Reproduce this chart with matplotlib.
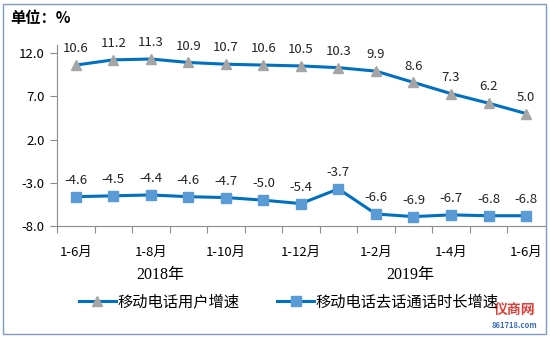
import matplotlib.pyplot as plt
from matplotlib.patches import Rectangle

plt.rcParams['font.family'] = ['Noto Sans CJK SC', 'DejaVu Sans']

months = ['1-6月', '1-7月', '1-8月', '1-9月', '1-10月', '1-11月', '1-12月',
          '1月', '1-2月', '1-3月', '1-4月', '1-5月', '1-6月']
shown_ticks = [0, 2, 4, 6, 8, 10, 12]
user_growth = [10.6, 11.2, 11.3, 10.9, 10.7, 10.6, 10.5, 10.3, 9.9, 8.6, 7.3, 6.2, 5.0]
call_growth = [-4.6, -4.5, -4.4, -4.6, -4.7, -5.0, -5.4, -3.7, -6.6, -6.9, -6.7, -6.8, -6.8]
y_ticks = [12.0, 7.0, 2.0, -3.0, -8.0]

line_blue = '#0070C0'
x = list(range(len(months)))

fig = plt.figure(figsize=(5.5, 3.37), dpi=100)
ax = fig.add_axes([0.1036, 0.329, 0.887, 0.537])

ax.plot(x, user_growth, color=line_blue, lw=2.2, marker='^', ms=7,
        mfc='#A5A5A5', mec='#A5A5A5', label='移动电话用户增速')
ax.plot(x, call_growth, color=line_blue, lw=2.2, marker='s', ms=7,
        mfc='#5B9BD5', mec='#5B9BD5', label='移动电话去话通话时长增速')

for xi, v in zip(x, user_growth):
    ax.annotate(f'{v:.1f}', (xi, v), xytext=(0, 7), textcoords='offset points',
                ha='center', va='bottom', fontsize=9.5, color='#222222')
for xi, v in zip(x, call_growth):
    ax.annotate(f'{v:.1f}', (xi, v), xytext=(0, 7), textcoords='offset points',
                ha='center', va='bottom', fontsize=9.5, color='#222222')

ax.set_xlim(-0.5, 12.5)
ax.set_ylim(-8, 12.9)
ax.set_yticks(y_ticks)
ax.set_yticklabels([f'{t:.1f}' for t in y_ticks], fontsize=9.5)
ax.set_xticks([i - 0.5 for i in range(13)], minor=False)
ax.set_xticklabels([])
ax.set_xticks(shown_ticks, minor=True)
ax.set_xticklabels([months[i] for i in shown_ticks], minor=True, fontsize=9.5)
ax.tick_params(axis='x', which='minor', length=0, pad=14)
ax.tick_params(axis='x', which='major', length=5, color='#8C8C8C')
ax.tick_params(axis='y', length=5, color='#8C8C8C', pad=4)

for side in ['top', 'right']:
    ax.spines[side].set_visible(False)
for side in ['left', 'bottom']:
    ax.spines[side].set_color('#8C8C8C')

year_font = ['Liberation Serif', 'Noto Sans CJK SC']
fig.text(160 / 550, 1 - 275 / 337, '2018年', ha='center', va='center',
         fontsize=11.5, family=year_font)
fig.text(410 / 550, 1 - 275 / 337, '2019年', ha='center', va='center',
         fontsize=11.5, family=year_font)
fig.text(10 / 550, 1 - 18 / 337, '单位：%', ha='left', va='center',
         fontsize=11, fontweight='bold')

fig.legend(loc='center', bbox_to_anchor=(0.525, 1 - 302 / 337), ncol=2, frameon=False,
           fontsize=11, handlelength=2.4, columnspacing=2.5, handletextpad=0.1)

# watermark in the lower right corner
fig.text(515 / 550, 1 - 311 / 337, '仪商网', ha='center', va='center',
         fontsize=10, color='#E0403A', fontweight='bold')
fig.text(515 / 550, 1 - 325 / 337, '861718.com', ha='center', va='center',
         fontsize=5.5, color='#3A6FB5', fontweight='bold')

fig.patches.append(Rectangle((3 / 550, 3 / 337), 543 / 550, 330 / 337,
                             transform=fig.transFigure, fill=False,
                             edgecolor='#7F9DB9', lw=1))

fig.savefig('out.png', dpi=100)
